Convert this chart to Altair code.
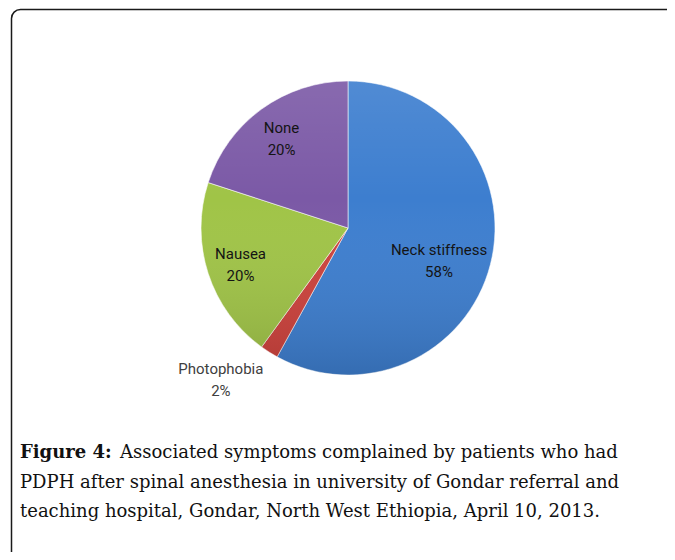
import altair as alt
import pandas as pd

categories = ["Neck stiffness", "Photophobia", "Nausea", "None"]
values = [58, 2, 20, 20]
colors = ["#3D7ECF", "#CD423C", "#A0C447", "#7B59A6"]

caption_bold = "Figure 4:"
caption_lines = [
    "Associated symptoms complained by patients who had",
    "PDPH after spinal anesthesia in university of Gondar referral and",
    "teaching hospital, Gondar, North West Ethiopia, April 10, 2013.",
]

df = pd.DataFrame({"category": categories, "value": values, "idx": list(range(len(categories)))})

W, H = 659, 544
CX, CY, R = 340, 220, 147

base = alt.Chart(df).transform_window(
    cum="sum(value)", sort=[alt.SortField("idx")]
).transform_calculate(
    start="datum.cum - datum.value",
    mid="datum.cum - datum.value / 2",
    label="datum.category + '\\n' + datum.value + '%'",
)

theta_scale = alt.Scale(domain=[0, 100], range=[0, 6.283185307179586])

arcs = base.mark_arc(outerRadius=R, stroke="#ffffff", strokeWidth=0.8, strokeOpacity=0.7).encode(
    theta=alt.Theta("start:Q", scale=theta_scale, stack=None),
    theta2="cum:Q",
    color=alt.Color("category:N", scale=alt.Scale(domain=categories, range=colors), legend=None),
    x=alt.value(CX),
    y=alt.value(CY),
)

shade = alt.Chart(pd.DataFrame({"a": [0]})).mark_arc(
    outerRadius=R,
    fill=alt.Gradient(
        gradient="linear",
        x1=0, y1=0, x2=0, y2=1,
        stops=[
            alt.GradientStop(color="rgba(255,255,255,0.10)", offset=0),
            alt.GradientStop(color="rgba(255,255,255,0.0)", offset=0.4),
            alt.GradientStop(color="rgba(0,0,0,0.14)", offset=1),
        ],
    ),
).encode(
    theta=alt.value(0), theta2=alt.value(6.283185307179586), x=alt.value(CX), y=alt.value(CY)
)

label_font = dict(font="Roboto", fontSize=15, lineBreak="\n", align="center", baseline="middle", lineHeight=22)

lab_big = base.transform_filter("datum.value > 50").mark_text(
    radius=94, dy=-1, color="#141414", **label_font
).encode(
    theta=alt.Theta("mid:Q", scale=theta_scale, stack=None), text="label:N", x=alt.value(CX), y=alt.value(CY)
)
lab_mid = base.transform_filter("datum.value <= 50 && datum.value >= 5").mark_text(
    radius=113, dy=-9, color="#141414", **label_font
).encode(
    theta=alt.Theta("mid:Q", scale=theta_scale, stack=None), text="label:N", x=alt.value(CX), y=alt.value(CY)
)
lab_out = base.transform_filter("datum.value < 5").mark_text(
    radius=185, dx=-28, dy=-15, color="#404040", **label_font
).encode(
    theta=alt.Theta("mid:Q", scale=theta_scale, stack=None), text="label:N", x=alt.value(CX), y=alt.value(CY)
)

frame = alt.Chart(pd.DataFrame({"a": [0]})).mark_rect(
    fill=None, stroke="#1a1a1a", strokeWidth=1.5, cornerRadius=9
).encode(x=alt.value(3.5), x2=alt.value(700), y=alt.value(1.5), y2=alt.value(700))

cap_font = dict(font="DejaVu Serif", fontSize=18, align="left", baseline="alphabetic", color="#111111")

cap_df = pd.DataFrame({"line": caption_lines, "i": list(range(len(caption_lines)))})
cap_bold = alt.Chart(pd.DataFrame({"t": [caption_bold]})).mark_text(fontWeight="bold", **cap_font).encode(
    text="t:N", x=alt.value(12), y=alt.value(450)
)
cap_rest = alt.Chart(cap_df).transform_calculate(
    px="datum.i == 0 ? 112 : 12", py="450 + datum.i * 29.5"
).mark_text(**cap_font).encode(
    text="line:N",
    x=alt.X("px:Q", scale=None),
    y=alt.Y("py:Q", scale=None),
)

chart = alt.layer(frame, arcs, shade, lab_big, lab_mid, lab_out, cap_bold, cap_rest).properties(
    width=W, height=H, autosize=alt.AutoSizeParams(type="none"), padding=0
).configure_view(stroke=None)

chart.save("out.html", embed_options={"renderer": "svg", "actions": False})
